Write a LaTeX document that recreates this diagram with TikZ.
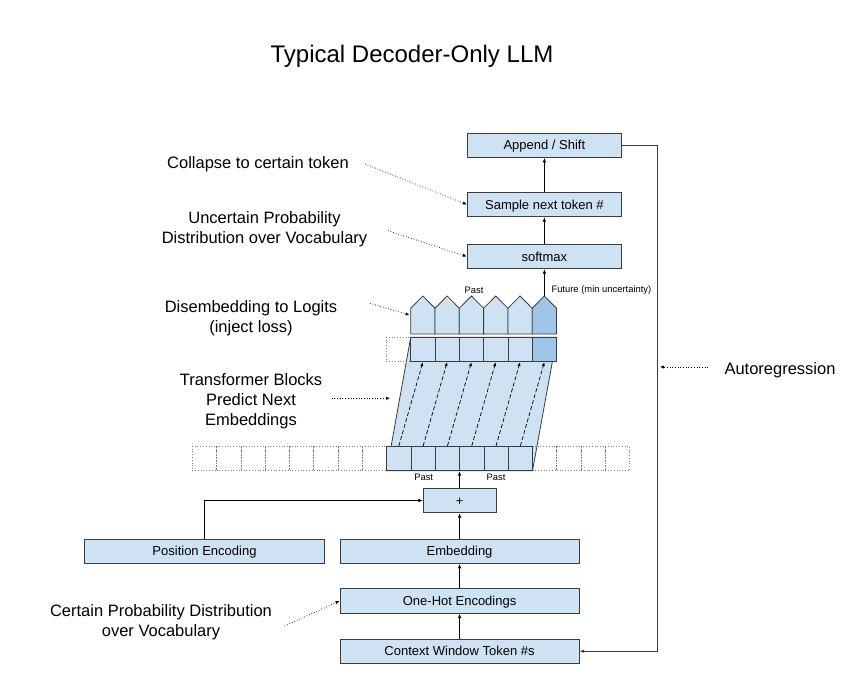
\documentclass[tikz,border=0pt]{standalone}
\usepackage{fontspec}
\setmainfont{Liberation Sans}
\usetikzlibrary{arrows.meta}
\definecolor{BoxBlue}{HTML}{CFE2F3}
\definecolor{BoxBlueDark}{HTML}{9FC5E8}
\definecolor{EdgeGray}{HTML}{3C3C3C}

\begin{document}
\begin{tikzpicture}[x=1bp,y=-1bp,
  box/.style={draw=EdgeGray,fill=BoxBlue,line width=.8bp,inner sep=0pt,minimum height=24.4bp,text height=9.3bp,text depth=0bp,font=\fontsize{13bp}{15bp}\selectfont},
  widebox/.style={box,minimum width=239.3bp},
  topbox/.style={box,minimum width=154.4bp},
  cell/.style={draw=EdgeGray,fill=BoxBlue,line width=.8bp,inner sep=0pt,minimum width=24.3bp,minimum height=24.4bp},
  ghost/.style={draw=gray,dotted,line width=.8bp,inner sep=0pt,minimum width=24.3bp,minimum height=24.4bp},
  arr/.style={-{Latex[length=4.5bp,width=3.6bp]},line width=.8bp},
  flow/.style={-{Latex[length=4bp,width=3.2bp]},dash pattern=on 4bp off 2.2bp,line width=.7bp},
  note/.style={-{Latex[length=4bp,width=3.4bp]},dotted,line width=.7bp},
  lbl/.style={align=center,font=\fontsize{16.5bp}{20bp}\selectfont},
  tiny/.style={font=\fontsize{9.4bp}{11bp}\selectfont}]
  \useasboundingbox (0,0) rectangle (866,690);
  \node[font=\fontsize{24bp}{28bp}\selectfont] (title) at (412,56) {Typical Decoder-Only LLM};

  % output side
  \node[topbox] (append) at (544.4,145.3) {Append / Shift};
  \node[topbox] (sample) at (544.4,204.5) {Sample next token \#};
  \node[topbox] (softmax) at (544.4,256.5) {softmax};
  \draw[arr] (softmax.north) -- (sample.south);
  \draw[arr] (sample.north) -- (append.south);

  % transformer blocks
  \filldraw[draw=EdgeGray,fill=BoxBlue,line width=.8bp] (386.7,470.7) -- (410.7,337.3) -- (556.8,337.3) -- (532.5,470.7) -- cycle;
  \foreach \k in {-8,...,-1,6,7,8,9} \node[ghost] (gl\k) at ({398.85+24.3*\k},458.5) {};
  \node[ghost] (ghostup) at (398.55,349.5) {};
  \foreach \k in {0,...,5} \node[cell] (lo\k) at ({398.85+24.3*\k},458.5) {};
  \foreach \k/\c in {0/BoxBlue,1/BoxBlue,2/BoxBlue,3/BoxBlue,4/BoxBlue,5/BoxBlueDark} {
    \node[cell,fill=\c] (up\k) at ({422.85+24.3*\k},349.5) {};
    \filldraw[draw=EdgeGray,fill=\c,line width=.8bp] ({410.7+24.3*\k},334) -- ++(0,-25.7) -- ++(12.15,-12.3) -- ++(12.15,12.3) -- ++(0,25.7) -- cycle;
    \draw[flow] (lo\k.north) -- (up\k.south);
  }
  \coordinate (peak) at (544.4,296);
  \draw[arr] (peak) -- (softmax.south);
  \node[tiny] (pastup) at (474,290.5) {Past};
  \node[tiny,anchor=west] (future) at (548,290.5) {Future (min uncertainty)};
  \node[tiny] (pastl) at (423.7,477.5) {Past};
  \node[tiny] (pastr) at (496,477.5) {Past};

  % input side
  \node[box,minimum width=72.7bp] (plus) at (459.6,500.5) {+};
  \node[widebox] (posenc) at (204.5,551.2) {Position Encoding};
  \node[widebox] (embed) at (459.6,551.2) {Embedding};
  \node[widebox] (onehot) at (459.6,601) {One-Hot Encodings};
  \node[widebox] (context) at (459.6,651.2) {Context Window Token \#s};
  \draw[arr] (context.north) -- (onehot.south);
  \draw[arr] (onehot.north) -- (embed.south);
  \draw[arr] (embed.north) -- (plus.south);
  \draw[arr] (posenc.north) |- (plus.west);
  \draw[arr] (plus.north) -- (plus.north |- lo3.south);
  \draw[arr,draw=EdgeGray] (append.east) -- ++(35,0) |- (context.east);

  % notes
  \node[lbl] (collapse) at (258,164) {Collapse to certain token};
  \node[lbl] (uncertain) at (264.5,229.5) {Uncertain Probability\\Distribution over Vocabulary};
  \node[lbl] (disembed) at (251,318.5) {Disembedding to Logits\\(inject loss)};
  \node[lbl] (blocks) at (251,401) {Transformer Blocks\\Predict Next\\Embeddings};
  \node[lbl] (certain) at (161,622.5) {Certain Probability Distribution\\over Vocabulary};
  \node[lbl,anchor=west] (autoreg) at (721,370) {Autoregression};
  \coordinate (n1) at (365,164);
  \coordinate (n2) at (388,230.7);
  \coordinate (n3) at (370,303.3);
  \coordinate (n4) at (331.7,398.3);
  \coordinate (n4e) at (390,398.3);
  \coordinate (n5) at (284.6,626);
  \coordinate (n6) at (708,367);
  \coordinate (n6e) at (660,367);
  \draw[note] (n1) -- (sample.west);
  \draw[note] (n2) -- (softmax.west);
  \draw[note] (n3) -- (409.5,315);
  \draw[note] (n4) -- (n4e);
  \draw[note] (n5) -- (onehot.west);
  \draw[note] (n6) -- (n6e);
\end{tikzpicture}
\end{document}
